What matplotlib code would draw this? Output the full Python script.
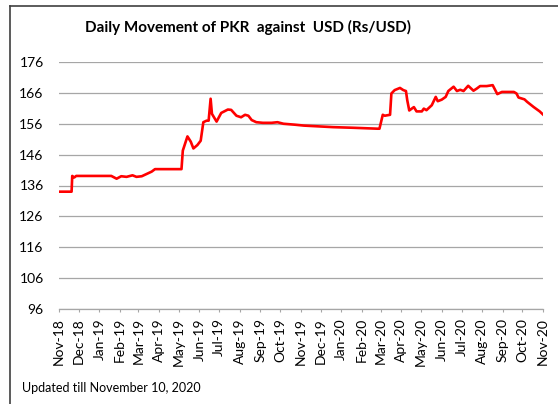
import datetime as dt
import matplotlib
matplotlib.use('Agg')
import matplotlib.pyplot as plt
import matplotlib.dates as mdates
from matplotlib.lines import Line2D

# PKR per USD, inter-bank closing rates
dates = [
    '2018-11-10', '2018-11-29', '2018-11-30', '2018-12-03', '2018-12-06',
    '2019-01-28', '2019-02-05', '2019-02-12', '2019-02-20', '2019-03-01',
    '2019-03-07', '2019-03-15', '2019-03-22', '2019-03-30', '2019-04-04',
    '2019-05-14', '2019-05-16', '2019-05-23', '2019-05-28', '2019-06-01',
    '2019-06-07', '2019-06-12', '2019-06-16', '2019-06-21', '2019-06-24',
    '2019-06-27', '2019-06-29', '2019-07-06', '2019-07-13', '2019-07-23',
    '2019-07-28', '2019-08-05', '2019-08-12', '2019-08-18', '2019-08-23',
    '2019-08-28', '2019-09-04', '2019-09-14', '2019-09-27', '2019-10-06',
    '2019-10-15', '2019-11-01', '2019-11-15', '2019-12-29', '2020-01-28',
    '2020-03-05', '2020-03-08', '2020-03-13', '2020-03-16', '2020-03-24',
    '2020-03-26', '2020-03-31', '2020-04-08', '2020-04-13', '2020-04-17',
    '2020-04-19', '2020-04-22', '2020-04-29', '2020-05-03', '2020-05-11',
    '2020-05-14', '2020-05-18', '2020-05-26', '2020-06-01', '2020-06-04',
    '2020-06-10', '2020-06-16', '2020-06-20', '2020-06-28', '2020-07-03',
    '2020-07-08', '2020-07-13', '2020-07-20', '2020-07-28', '2020-08-02',
    '2020-08-07', '2020-08-17', '2020-08-26', '2020-09-02', '2020-09-09',
    '2020-09-17', '2020-09-27', '2020-10-01', '2020-10-04', '2020-10-13',
    '2020-10-17', '2020-10-27', '2020-11-05', '2020-11-10',
]
rates = [
    134.0, 134.0, 139.1, 138.6, 139.1,
    139.1, 138.2, 139.0, 138.8, 139.3,
    138.8, 139.0, 139.7, 140.5, 141.3,
    141.3, 147.3, 151.9, 150.2, 148.0,
    149.1, 150.5, 156.5, 157.0, 157.0,
    164.1, 159.2, 156.7, 159.5, 160.6,
    160.5, 158.6, 158.1, 158.9, 158.6,
    157.2, 156.5, 156.3, 156.3, 156.5,
    156.0, 155.7, 155.4, 154.9, 154.7,
    154.4, 154.4, 158.9, 158.6, 158.9,
    165.8, 166.9, 167.6, 166.9, 166.6,
    163.6, 160.3, 161.4, 160.0, 160.0,
    160.9, 160.4, 162.0, 164.7, 163.3,
    163.8, 164.7, 166.6, 168.0, 166.6,
    167.0, 166.6, 168.3, 166.7, 167.4,
    168.2, 168.2, 168.5, 165.6, 166.3,
    166.3, 166.3, 165.8, 164.5, 163.9,
    163.1, 161.4, 160.0, 159.0,
]
yticks = [96, 106, 116, 126, 136, 146, 156, 166, 176]

x = [dt.datetime.strptime(d, '%Y-%m-%d') for d in dates]

plt.rcParams['font.family'] = ['Lato', 'DejaVu Sans']

fig = plt.figure(figsize=(5.58, 4.04), dpi=100)
ax = fig.add_axes([59 / 558, 1 - 309 / 404, 484 / 558, 247 / 404])

ax.plot(x, rates, color='#ff0000', linewidth=1.9, solid_joinstyle='round')

ax.set_ylim(96, 176)
ax.set_yticks(yticks)
ax.set_xlim(dt.datetime(2018, 11, 10), dt.datetime(2020, 11, 10))
ax.xaxis.set_major_locator(mdates.MonthLocator(bymonthday=10))
ax.xaxis.set_major_formatter(mdates.DateFormatter('%b-%y'))

grid_col = '#a6a6a6'
ax.grid(axis='y', color=grid_col, linewidth=0.9)
ax.set_axisbelow(True)
for side in ['left', 'right', 'top']:
    ax.spines[side].set_visible(False)
ax.spines['bottom'].set_color(grid_col)
ax.spines['bottom'].set_linewidth(0.9)

ax.tick_params(axis='y', length=0, pad=11, labelsize=10, labelcolor='#000000')
ax.tick_params(axis='x', direction='out', length=2.5, width=0.8, color=grid_col,
               pad=4, labelsize=10, labelrotation=90)

fig.text(0.445, 0.931, 'Daily Movement of PKR  against  USD (Rs/USD)',
         ha='center', va='center', fontsize=11, fontweight='bold')
fig.text(22 / 558, 1 - 388 / 404, 'Updated till November 10, 2020',
         ha='left', va='center', fontsize=9)

# chart frame, cut off at the right and bottom edges
border = '#404040'
fig.add_artist(Line2D([10 / 558, 10 / 558], [0, 1 - 5.7 / 404],
                      transform=fig.transFigure, color=border, linewidth=1.2))
fig.add_artist(Line2D([10 / 558, 1], [1 - 5.7 / 404, 1 - 5.7 / 404],
                      transform=fig.transFigure, color=border, linewidth=1.2))

plt.savefig('out.png', dpi=100)
